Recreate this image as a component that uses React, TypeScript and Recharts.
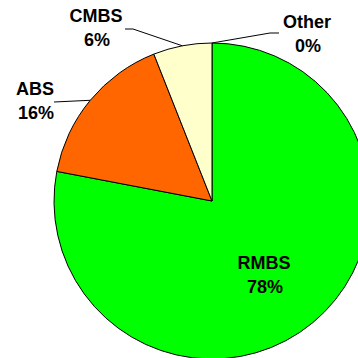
import { PieChart, Pie, Cell } from "recharts";

// portfolio mix by sector, in percent
const SECTORS = ["RMBS", "ABS", "CMBS", "Other"];
const SHARES = [78, 16, 6, 0];
const COLORS = ["#00FF00", "#FF6600", "#FFFFCC", "#FFFFFF"];

const data = SECTORS.map((name, i) => ({ name, value: SHARES[i] }));

// where each label sits, and the bend of its leader line (null = no leader)
const LABEL_LAYOUT: Record<
  string,
  { x: number; y: number; line: [number, number][] | null }
> = {
  RMBS: { x: 264, y: 269, line: null },
  ABS: { x: 35, y: 95, line: [[54, 102]] },
  CMBS: { x: 96, y: 21.5, line: [[133, 29], [125, 29]] },
  Other: { x: 307, y: 27.5, line: [[270, 33], [279, 33]] },
};

const RADIAN = Math.PI / 180;
const FONT = "Arial, 'Liberation Sans', Helvetica, sans-serif";

const renderLabel = (props: any) => {
  const { cx, cy, midAngle, outerRadius, name, value } = props;
  const layout = LABEL_LAYOUT[name];
  if (!layout) return null;
  let leader = null;
  if (layout.line) {
    const sx = cx + outerRadius * Math.cos(-midAngle * RADIAN);
    const sy = cy + outerRadius * Math.sin(-midAngle * RADIAN);
    const pts = [[sx, sy], ...layout.line].map((p) => p.join(",")).join(" ");
    leader = <polyline points={pts} fill="none" stroke="#000" strokeWidth={1} />;
  }
  return (
    <g key={name}>
      {leader}
      <text
        x={layout.x}
        y={layout.y}
        textAnchor="middle"
        fontFamily={FONT}
        fontWeight="bold"
        fontSize={18}
        fill="#000"
      >
        <tspan x={layout.x}>{name}</tspan>
        <tspan x={layout.x + 1} dy={24}>{`${value}%`}</tspan>
      </text>
    </g>
  );
};

export default function App() {
  return (
    <div style={{ position: "absolute", left: 0, top: 0, width: 358, height: 358, background: "#fff" }}>
      <PieChart width={358} height={358} margin={{ top: 0, right: 0, bottom: 0, left: 0 }}>
        <Pie
          data={data}
          dataKey="value"
          nameKey="name"
          cx={212}
          cy={201}
          outerRadius={158}
          startAngle={90}
          endAngle={-270}
          stroke="#000"
          strokeWidth={1}
          label={renderLabel}
          labelLine={false}
          isAnimationActive={false}
        >
          {data.map((d, i) => (
            <Cell key={d.name} fill={COLORS[i]} />
          ))}
        </Pie>
      </PieChart>
    </div>
  );
}
